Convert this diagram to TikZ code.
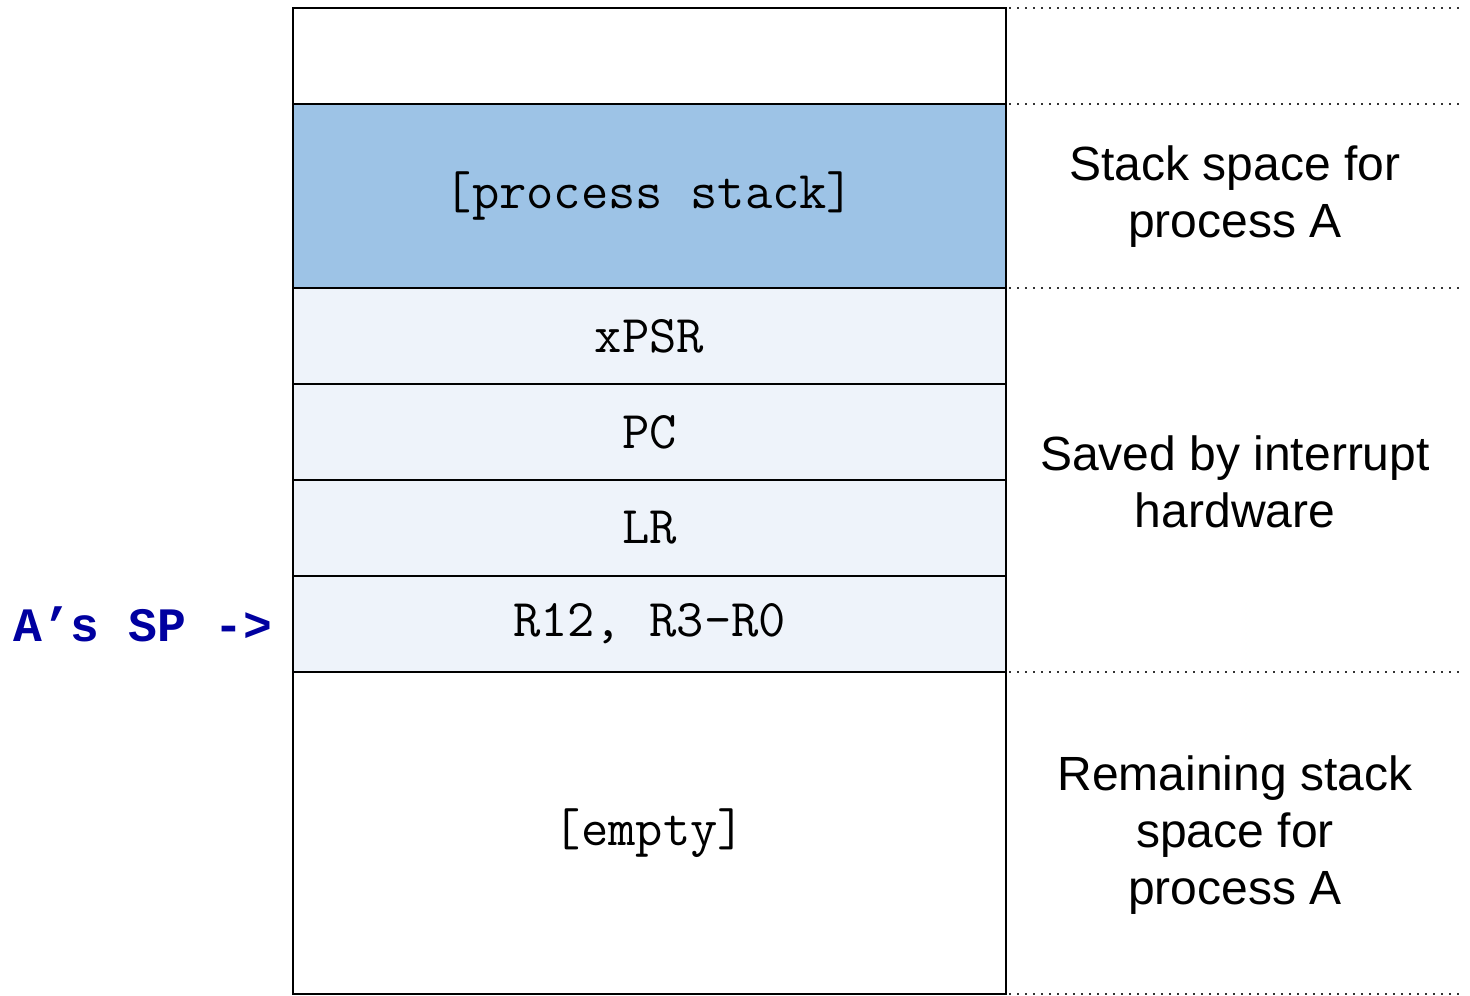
\documentclass[tikz,border=0pt]{standalone}
\usepackage{fontspec}
\setmainfont{Liberation Sans}
\setsansfont{Liberation Sans}
\newfontfamily\spmono{Liberation Mono}

\definecolor{stackblue}{HTML}{9DC3E6}
\definecolor{framepale}{HTML}{EEF3FA}
\definecolor{spblue}{HTML}{0000A0}

\tikzset{
    cell/.style={draw, line width=1pt, minimum width=356.5pt, inner sep=0pt,
        outer sep=0pt, font=\fontsize{26.5}{30}\selectfont\ttfamily},
    frame/.style={cell, fill=framepale, minimum height=48pt},
    note/.style={align=center, font=\fontsize{24}{28.5}\selectfont\sffamily},
    guide/.style={line width=1pt, dash pattern=on 1pt off 3pt, black!80},
}

\begin{document}
\begin{tikzpicture}[x=0.5pt, y=-0.5pt]
    \useasboundingbox (0, 0) rectangle (1470, 995);

    % the stack, top to bottom
    \node[cell, minimum height=48pt] (free) at (649.5, 56) {};
    \node[cell, fill=stackblue, minimum height=92pt] (pstack) at (649.5, 196)
        {[process stack]};
    \node[frame] (xpsr) at (649.5, 336) {xPSR};
    \node[frame] (pc) at (649.5, 432) {PC};
    \node[frame] (lr) at (649.5, 528) {LR};
    \node[frame] (regs) at (649.5, 624) {R12, R3-R0};
    \node[cell, minimum height=161pt] (empty) at (649.5, 833) {[empty]};

    % stack pointer
    \node[anchor=east, inner sep=0pt, text=spblue,
        font=\fontsize{24}{28}\selectfont\spmono\bfseries] (sp) at (273, 624)
        {A’s SP ->};

    % regions on the right
    \node[note] (spacea) at (1235, 197) {Stack space for\\process A};
    \node[note] (saved) at (1235, 482) {Saved by interrupt\\hardware};
    \node[note] (remain) at (1235, 835) {Remaining stack\\space for\\process A};

    \coordinate (rim) at (1465, 0);
    \foreach \p in {free.north east, pstack.north east, pstack.south east,
        regs.south east, empty.south east}
        \draw[guide] (\p) ++(3, 0) -- (rim |- \p);
\end{tikzpicture}
\end{document}
